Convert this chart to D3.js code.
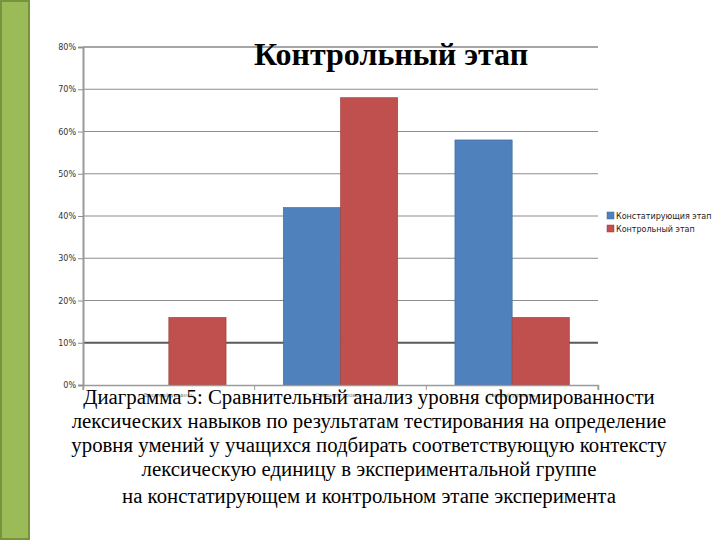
<!DOCTYPE html>
<html><head><meta charset="utf-8">
<script src="https://cdn.jsdelivr.net/npm/d3@7"></script>
<style>body{margin:0;background:#fff}svg{display:block}</style>
</head><body><div id="chart"></div>
<script>
const categories = ["Высокий уровень", "Средний уровень", "Низкий уровень"];
const seriesNames = ["Констатирующия этап", "Контрольный этап"];
const seriesConst = [0, 0.42, 0.58];
const seriesControl = [0.16, 0.68, 0.16];
const yTicks = [0, 0.1, 0.2, 0.3, 0.4, 0.5, 0.6, 0.7, 0.8];
const colors = ["#4F81BD", "#C0504D"];
const title = "Контрольный этап";
const captionLines = [
  "Диаграмма 5: Сравнительный анализ уровня сформированности",
  "лексических навыков по результатам тестирования на определение",
  "уровня умений у учащихся подбирать соответствующую контексту",
  "лексическую единицу в экспериментальной группе",
  "на констатирующем и контрольном этапе эксперимента"
];

(function () {
const W = 720, H = 540;
const svg = d3.select("#chart").append("svg").attr("width", W).attr("height", H);

// left green bar
svg.append("rect").attr("x", 1).attr("y", 1).attr("width", 28).attr("height", 538)
  .attr("fill", "#9BBB59").attr("stroke", "#77933C").attr("stroke-width", 2);

const pL = 83, pR = 598, pT = 47, pB = 385;
const y = d3.scaleLinear().domain([0, 0.8]).range([pB, pT]);
const x0 = d3.scaleBand().domain(categories).range([pL, pR]).padding(0);
const x1 = d3.scaleBand().domain(seriesNames).range([0, x0.bandwidth()]).paddingInner(0).paddingOuter(0.5);

// gridlines
svg.append("g").selectAll("line").data(yTicks.filter(d => d > 0)).join("line")
  .attr("x1", pL).attr("x2", pR)
  .attr("y1", d => y(d)).attr("y2", d => y(d))
  .attr("stroke", d => d === 0.8 ? "#a6a6a6" : (Math.abs(d - 0.1) < 1e-9 ? "#5a5a5a" : "#8c8c8c"))
  .attr("stroke-width", d => (d === 0.8 || Math.abs(d - 0.1) < 1e-9) ? 2 : 1.2);

// y axis
const yAxis = d3.axisLeft(y).tickValues(yTicks).tickFormat(d3.format(".0%")).tickSize(5).tickPadding(2);
const gy = svg.append("g").attr("transform", `translate(${pL},0)`).call(yAxis);
gy.select(".domain").attr("stroke", "#9a9a9a").attr("stroke-width", 2);
gy.selectAll(".tick line").attr("stroke", "#8c8c8c");
gy.selectAll("text").attr("font-family", "Verdana, 'DejaVu Sans', sans-serif").attr("font-size", 8).attr("fill", "#333");

// bars
const data = categories.map((c, i) => ({c, vals: [seriesConst[i], seriesControl[i]]}));
const groups = svg.append("g").selectAll("g").data(data).join("g")
  .attr("transform", d => `translate(${x0(d.c)},0)`);
groups.selectAll("rect").data(d => d.vals.map((v, k) => ({s: seriesNames[k], v, k}))).join("rect")
  .attr("x", d => x1(d.s)).attr("width", x1.bandwidth())
  .attr("y", d => y(d.v)).attr("height", d => pB - y(d.v))
  .attr("fill", d => colors[d.k])
  .attr("stroke", d => d.k === 0 ? "#3a6598" : "#9e3b38").attr("stroke-width", d => d.v > 0 ? 0.6 : 0);

// x axis
const xAxis = d3.axisBottom(x0).tickSize(5).tickPadding(3);
const gx = svg.append("g").attr("transform", `translate(0,${pB})`).call(xAxis);
gx.select(".domain").attr("stroke", "#9a9a9a").attr("stroke-width", 1.5);
gx.selectAll(".tick line").remove();
gx.selectAll("text").attr("font-family", "Verdana, 'DejaVu Sans', sans-serif").attr("font-size", 5.5).attr("fill", "#888");
svg.append("g").selectAll("line").data([pL, ...categories.map(c => x0(c) + x0.bandwidth())]).join("line")
  .attr("x1", d => d).attr("x2", d => d).attr("y1", pB).attr("y2", pB + 5)
  .attr("stroke", "#9a9a9a");

// title
svg.append("text").attr("x", 391).attr("y", 65).attr("text-anchor", "middle")
  .attr("font-family", "'Liberation Serif', 'Times New Roman', serif").attr("font-weight", "bold")
  .attr("font-size", 32).attr("fill", "#000").text(title);

// legend
const lg = svg.append("g").attr("transform", "translate(607,212)");
seriesNames.forEach((s, i) => {
  lg.append("rect").attr("x", 0).attr("y", i * 13).attr("width", 7).attr("height", 7)
    .attr("fill", colors[i]).attr("stroke", i === 0 ? "#3a6598" : "#9e3b38").attr("stroke-width", 0.5);
  lg.append("text").attr("x", 9).attr("y", i * 13 + 7).attr("font-family", "Verdana, 'DejaVu Sans', sans-serif")
    .attr("font-size", 8).attr("fill", "#222").text(s);
});

// caption
const capY = [404, 428, 452, 476, 503];
svg.append("g").selectAll("text").data(captionLines).join("text")
  .attr("x", 369).attr("y", (d, i) => capY[i]).attr("text-anchor", "middle")
  .attr("font-family", "'Liberation Serif', 'Times New Roman', serif").attr("font-size", 20.8)
  .attr("fill", "#000").text(d => d);
})();
</script></body></html>
